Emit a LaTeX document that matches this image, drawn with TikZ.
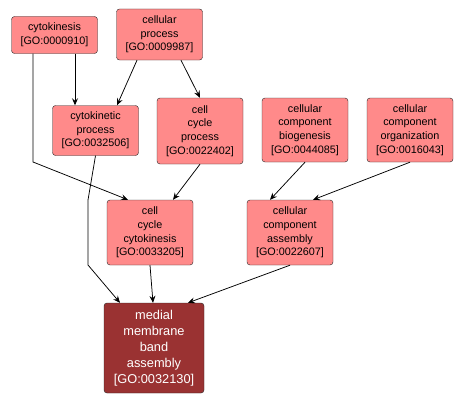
\documentclass[tikz,border=0pt]{standalone}
\usepackage{fontspec}
\setmainfont{Liberation Sans}
\usetikzlibrary{arrows.meta}
\definecolor{goterm}{HTML}{FF8A8A}
\definecolor{goquery}{HTML}{9A3232}
\begin{document}
\begin{tikzpicture}[x=1pt, y=-1pt,
    term/.style={draw=black!85, fill=goterm, rounded corners=3pt, align=center,
        inner sep=0pt, minimum width=86pt, font=\fontsize{10.8}{13.6}\selectfont},
    query/.style={term, fill=goquery, text=white, minimum width=100pt,
        minimum height=90pt, font=\fontsize{12.8}{16}\selectfont},
    isa/.style={-{Stealth[length=7pt,width=6pt,inset=2.5pt]}, black, line width=0.75pt}]
    \useasboundingbox (0,0) rectangle (465,404);
    \node[term, minimum height=37pt] (cytok) at (54.5,35) {cytokinesis\\{[GO:0000910]}};
    \node[term, minimum height=51pt] (cellproc) at (159.5,34.5) {cellular\\process\\{[GO:0009987]}};
    \node[term, minimum height=50pt] (cytokproc) at (95.5,130.5) {cytokinetic\\process\\{[GO:0032506]}};
    \node[term, minimum height=66pt] (ccproc) at (200,131) {cell\\cycle\\process\\{[GO:0022402]}};
    \node[term, minimum height=64pt] (ccbio) at (305,130) {cellular\\component\\biogenesis\\{[GO:0044085]}};
    \node[term, minimum height=64pt] (ccorg) at (410,130) {cellular\\component\\organization\\{[GO:0016043]}};
    \node[term, minimum height=65pt] (cccyto) at (150,232.5) {cell\\cycle\\cytokinesis\\{[GO:0033205]}};
    \node[term, minimum height=65pt] (ccasm) at (290,232.5) {cellular\\component\\assembly\\{[GO:0022607]}};
    \node[query] (mmba) at (154,348) {medial\\membrane\\band\\assembly\\{[GO:0032130]}};
    \draw[isa] ([xshift=20.5pt]cytok.south) -- ([xshift=-20.5pt]cytokproc.north);
    \draw[isa] ([xshift=-22.5pt]cellproc.south) -- ([xshift=21.5pt]cytokproc.north);
    \draw[isa] ([xshift=21.5pt]cellproc.south) -- (ccproc.north);
    \draw[isa] ([xshift=-21.5pt]cytok.south) -- (33,162) -- ([xshift=-22pt]cccyto.north);
    \draw[isa] (cytokproc.south) -- (88,200) -- (88,265) -- ([xshift=-34pt]mmba.north);
    \draw[isa] (ccproc.south) -- ([xshift=23pt]cccyto.north);
    \draw[isa] (ccbio.south) -- ([xshift=-20pt]ccasm.north);
    \draw[isa] (ccorg.south) -- ([xshift=23pt]ccasm.north);
    \draw[isa] (cccyto.south) -- ([xshift=-1pt]mmba.north);
    \draw[isa] (ccasm.south) -- ([xshift=34pt]mmba.north);
\end{tikzpicture}
\end{document}
